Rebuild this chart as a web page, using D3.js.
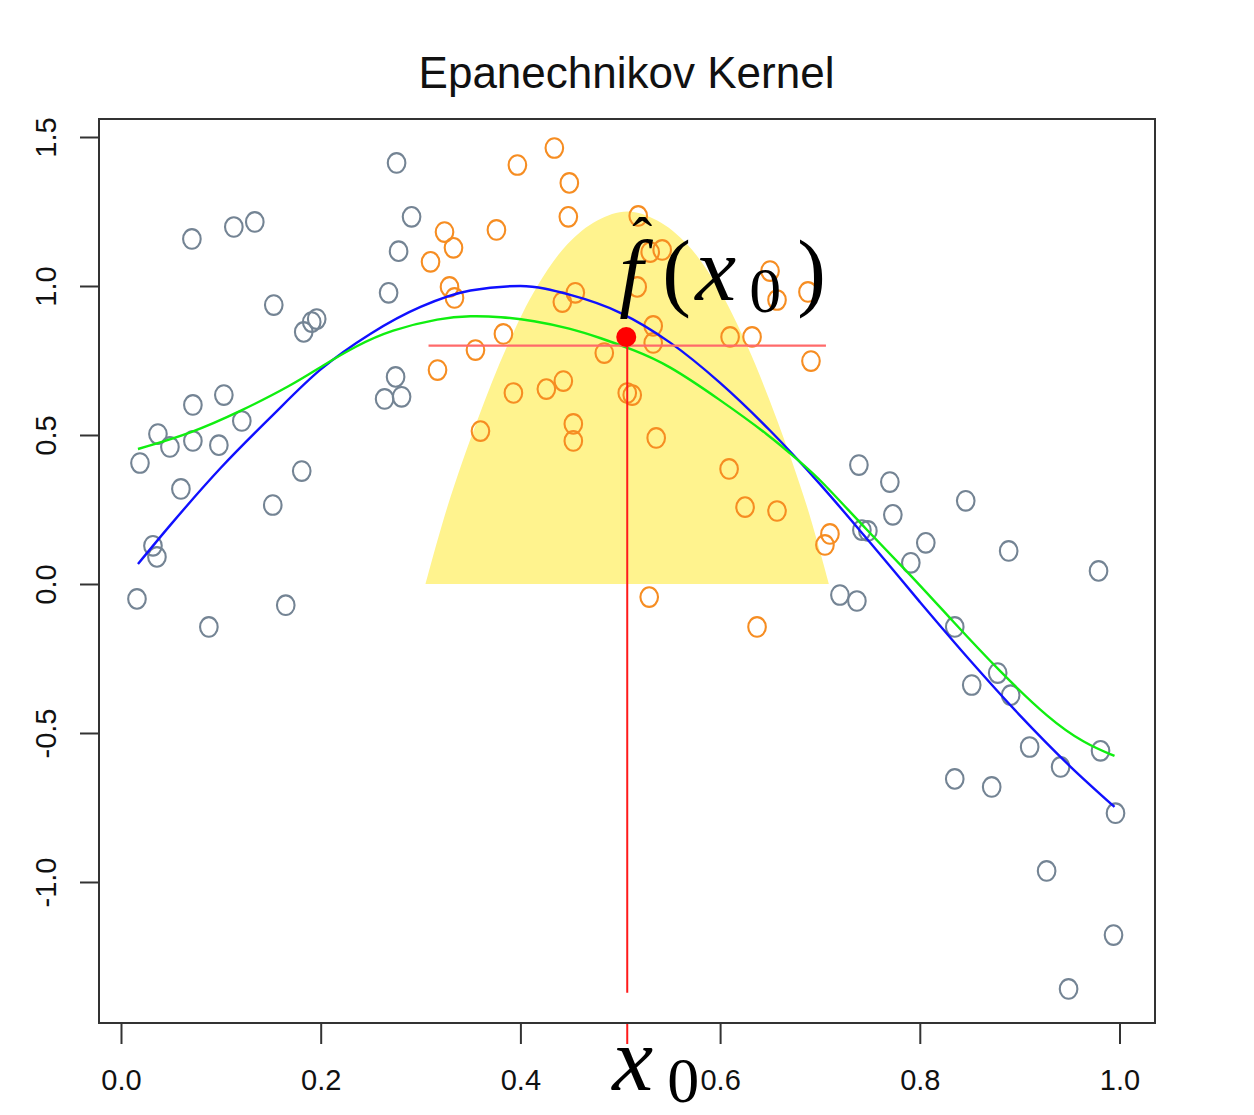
<!DOCTYPE html>
<html>
<head>
<meta charset="utf-8">
<script src="https://cdn.jsdelivr.net/npm/d3@7"></script>
<style>
  html, body { margin: 0; padding: 0; background: #ffffff; }
  svg { display: block; }
  .tick text { font-family: "Liberation Sans", Arial, sans-serif; fill: #111; }
  .math { font-family: "Liberation Serif", "DejaVu Serif", serif; fill: #000; }
</style>
</head>
<body>
<script>
// ---- data ----
// observations outside the kernel window (grey)
const otherX = [0.276,0.113,0.134,0.071,0.291,0.278,0.268,0.153,0.183,0.191,
                0.196,0.275,0.264,0.281,0.103,0.072,0.121,0.037,0.072,0.049,
                0.098,0.019,0.181,0.060,0.152,0.032,0.036,0.016,0.165,0.088,
                0.739,0.770,0.846,0.773,0.742,0.748,0.806,0.791,0.889,0.979,
                0.720,0.737,0.835,0.878,0.852,0.891,0.910,0.941,0.981,0.996,
                0.835,0.872,0.927,0.994,0.949];
const otherY = [1.413,1.198,1.215,1.158,1.232,1.117,0.977,0.936,0.846,0.879,
                0.889,0.695,0.621,0.628,0.634,0.601,0.547,0.503,0.480,0.460,
                0.466,0.406,0.379,0.319,0.265,0.128,0.091,-0.050,-0.071,-0.144,
                0.399,0.342,0.279,0.232,0.181,0.178,0.138,0.071,0.111,0.044,
                -0.037,-0.057,-0.144,-0.299,-0.339,-0.373,-0.547,-0.614,-0.560,-0.769,
                -0.654,-0.681,-0.963,-1.178,-1.359];
// observations inside the kernel window (orange)
const windowX = [0.434,0.397,0.449,0.448,0.518,0.324,0.333,0.376,0.310,0.530,
                 0.542,0.329,0.334,0.455,0.442,0.517,0.650,0.657,0.688,0.533,
                 0.533,0.383,0.355,0.317,0.484,0.610,0.632,0.691,0.393,0.426,
                 0.443,0.507,0.512,0.360,0.453,0.453,0.536,0.609,0.625,0.657,
                 0.710,0.705,0.529,0.637];
const windowY = [1.463,1.406,1.346,1.232,1.235,1.181,1.128,1.188,1.081,1.114,
                 1.121,0.997,0.960,0.977,0.946,0.997,1.050,0.953,0.980,0.866,
                 0.809,0.839,0.785,0.718,0.775,0.829,0.829,0.748,0.641,0.654,
                 0.681,0.641,0.634,0.513,0.537,0.480,0.490,0.386,0.258,0.245,
                 0.168,0.131,-0.044,-0.144];

// true regression curve (blue)
const trueX = [0.017,0.05,0.1,0.15,0.2,0.25,0.3,0.35,0.4,0.45,0.5,
               0.55,0.6,0.65,0.7,0.75,0.8,0.85,0.9,0.95,0.995];
const trueY = [0.067,0.20,0.39,0.56,0.72,0.84,0.93,0.985,1.0,0.97,0.91,
               0.81,0.675,0.515,0.335,0.14,-0.06,-0.255,-0.44,-0.61,-0.748];

// Epanechnikov kernel smooth (green)
const fitX = [0.017,0.07,0.12,0.17,0.203,0.236,0.27,0.32,0.35,0.38,0.413,
              0.45,0.48,0.513,0.547,0.6,0.65,0.68,0.7,0.747,0.791,0.833,0.879,0.93,0.965,0.995];
const fitY = [0.453,0.505,0.58,0.665,0.735,0.8,0.852,0.893,0.9,0.897,0.884,
              0.858,0.826,0.786,0.738,0.618,0.497,0.41,0.352,0.18,0.03,-0.125,-0.29,-0.455,-0.535,-0.577];

// target point, its fitted value and kernel window
const x0 = 0.507;
const fitAtX0 = 0.80;
const dotAtX0 = 0.829;
const lineBottom = -1.372;
// kernel weights (scaled) across the window, as offsets from x0
const kernelOffset = [-0.202,-0.18,-0.15,-0.12,-0.09,-0.06,-0.03,0,0.03,0.06,0.09,0.12,0.15,0.18,0.202];
const kernelHeight = [0,0.26,0.55,0.80,1.0,1.14,1.22,1.25,1.22,1.14,1.0,0.80,0.55,0.26,0];

// axis ticks
const xTicks = [0, 0.2, 0.4, 0.6, 0.8, 1.0];
const yTicks = [-1.0, -0.5, 0.0, 0.5, 1.0, 1.5];
const fmt = d => d.toFixed(1);   // plain hyphen for negatives

// ---- layout ----
const W = 1254, H = 1115;
const box = { left: 99, right: 1155, top: 119, bottom: 1023 };

const svg = d3.select("body").append("svg")
  .attr("width", W).attr("height", H);

const x = d3.scaleLinear().domain([-0.02203, 1.03555]).range([box.left, box.right]);
const y = d3.scaleLinear().domain([-1.4732, 1.5604]).range([box.bottom, box.top]);

// title
svg.append("text")
  .attr("x", 626.5).attr("y", 88)
  .attr("text-anchor", "middle")
  .style("font-family", "'Liberation Sans', Arial, sans-serif")
  .style("font-size", "44px")
  .style("fill", "#111")
  .text("Epanechnikov Kernel");

// kernel weight region
const kernelArea = d3.area()
  .x((d, i) => x(x0 + kernelOffset[i]))
  .y0(y(0))
  .y1((d, i) => y(kernelHeight[i]))
  .curve(d3.curveCatmullRom);
svg.append("path")
  .datum(kernelOffset)
  .attr("d", kernelArea)
  .attr("fill", "#fff38e");

// points
const ptGroup = svg.append("g");
ptGroup.selectAll("ellipse.other")
  .data(otherX.map((v, i) => [v, otherY[i]]))
  .join("ellipse")
  .attr("class", "other")
  .attr("cx", d => x(d[0])).attr("cy", d => y(d[1]))
  .attr("rx", 8.8).attr("ry", 9.8)
  .attr("fill", "none").attr("stroke", "#748494").attr("stroke-width", 2.1);
ptGroup.selectAll("ellipse.win")
  .data(windowX.map((v, i) => [v, windowY[i]]))
  .join("ellipse")
  .attr("class", "win")
  .attr("cx", d => x(d[0])).attr("cy", d => y(d[1]))
  .attr("rx", 8.8).attr("ry", 9.8)
  .attr("fill", "none").attr("stroke", "#f68d22").attr("stroke-width", 2.1);

// curves
svg.append("path")
  .attr("d", d3.line().curve(d3.curveMonotoneX)(trueX.map((v, i) => [x(v), y(trueY[i])])))
  .attr("fill", "none").attr("stroke", "#1010ff").attr("stroke-width", 2.4);
svg.append("path")
  .attr("d", d3.line().curve(d3.curveBasis)(fitX.map((v, i) => [x(v), y(fitY[i])])))
  .attr("fill", "none").attr("stroke", "#10ee10").attr("stroke-width", 2.4);

// fitted value across the window and the vertical at x0
svg.append("line")
  .attr("x1", x(x0 - 0.199)).attr("x2", x(x0 + 0.199))
  .attr("y1", y(fitAtX0)).attr("y2", y(fitAtX0))
  .attr("stroke", "#ff6a6a").attr("stroke-width", 2.4);
svg.append("line")
  .attr("x1", x(x0)).attr("x2", x(x0))
  .attr("y1", y(lineBottom)).attr("y2", y(fitAtX0))
  .attr("stroke", "#ff1a1a").attr("stroke-width", 2);
svg.append("circle")
  .attr("cx", x(x0) - 1).attr("cy", y(dotAtX0))
  .attr("r", 10).attr("fill", "#ff0000");

// axes
const xAxis = d3.axisBottom(x).tickValues(xTicks).tickFormat(fmt).tickSize(21);
const gx = svg.append("g").attr("transform", `translate(0,${box.bottom})`).call(xAxis);
gx.select(".domain").remove();
gx.selectAll(".tick line").attr("stroke", "#333").attr("stroke-width", 2);
gx.selectAll(".tick text").attr("y", 67).attr("dy", 0).style("font-size", "29px");

const yAxis = d3.axisLeft(y).tickValues(yTicks).tickFormat(fmt).tickSize(19);
const gy = svg.append("g").attr("transform", `translate(${box.left},0)`).call(yAxis);
gy.select(".domain").remove();
gy.selectAll(".tick line").attr("stroke", "#333").attr("stroke-width", 2);
gy.selectAll(".tick text")
  .attr("x", 0).attr("dy", 0)
  .attr("text-anchor", "middle")
  .attr("transform", "translate(-43,0) rotate(-90)")
  .style("font-size", "29px");

// x0 tick
svg.append("line")
  .attr("x1", x(x0)).attr("x2", x(x0))
  .attr("y1", box.bottom).attr("y2", box.bottom + 21)
  .attr("stroke", "#ff1a1a").attr("stroke-width", 2);

// plot frame
svg.append("rect")
  .attr("x", box.left).attr("y", box.top)
  .attr("width", box.right - box.left).attr("height", box.bottom - box.top)
  .attr("fill", "none").attr("stroke", "#333").attr("stroke-width", 2);

// x0 label under the axis
const px0 = x(x0);
const xl = svg.append("text").attr("class", "math").attr("y", 1090);
xl.append("tspan").attr("x", px0 - 15).style("font-style", "italic").style("font-size", "92px").text("x");
xl.append("tspan").attr("x", px0 + 40).attr("y", 1102).style("font-size", "64px").text("0");

// f-hat(x0) label (hat set as its own glyph above the f)
const fl = svg.append("text").attr("class", "math").attr("y", 300);
fl.append("tspan").attr("x", px0 - 8).style("font-style", "italic").style("font-size", "86px").text("f");
fl.append("tspan").attr("x", px0 + 5).attr("y", 258).style("font-size", "60px").text("ˆ");
fl.append("tspan").attr("x", px0 + 35).attr("y", 300).style("font-size", "86px").text("(");
fl.append("tspan").attr("x", px0 + 68).style("font-style", "italic").style("font-size", "92px").text("x");
fl.append("tspan").attr("x", px0 + 122).attr("y", 312).style("font-size", "64px").text("0");
fl.append("tspan").attr("x", px0 + 170).attr("y", 300).style("font-size", "86px").text(")");
</script>
</body>
</html>
